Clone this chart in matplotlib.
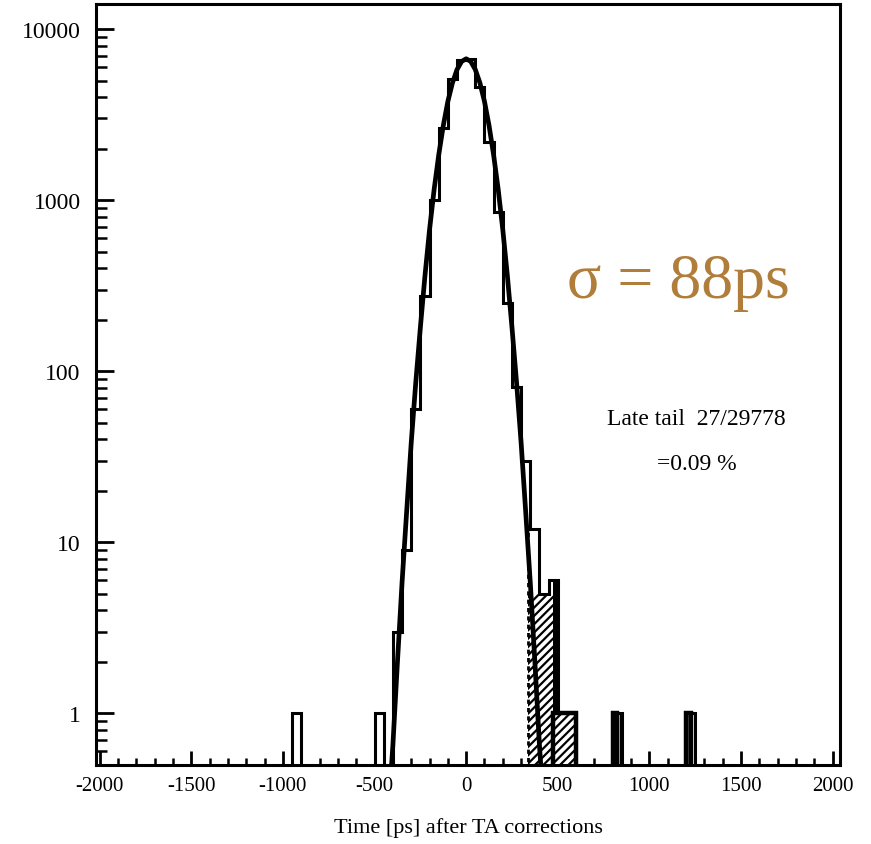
import numpy as np
import matplotlib
matplotlib.use("Agg")
import matplotlib.pyplot as plt
from matplotlib.ticker import LogLocator, MultipleLocator, NullFormatter, FuncFormatter

plt.rcParams['font.family'] = ['Liberation Serif', 'DejaVu Serif']
plt.rcParams['axes.unicode_minus'] = False
plt.rcParams['hatch.linewidth'] = 1.6

# histogram of arrival times, 50 ps bins
bin_edges = np.arange(-1000, 1301, 50)
counts = [0, 1, 0, 0, 0, 0, 0, 0, 0, 0,          # -1000 .. -550
          1, 0, 3, 9, 60, 275, 1000, 2640, 5080, 6600,   # -500 .. -50
          6700, 4600, 2200, 850, 250, 81, 30, 12, 5, 6,  # 0 .. 450
          1, 1, 0, 0, 0, 0, 1, 0, 0, 0,          # 500 .. 950
          0, 0, 0, 0, 1, 0]                      # 1000 .. 1250

# gaussian fit curve
curve_t = [-410, -400, -375, -350, -325, -300, -275, -250, -225, -200, -175,
           -150, -125, -100, -75, -50, -25, 0, 25, 50, 75, 100, 125, 150,
           175, 200, 225, 250, 275, 300, 325, 350, 375, 400, 410]
curve_n = [0.45, 0.65, 2.0, 5.8, 15, 38, 86, 180, 360, 670, 1150,
           1830, 2720, 3770, 4840, 5790, 6460, 6700, 6460, 5790, 4840, 3770, 2720, 1830,
           1150, 670, 360, 180, 86, 38, 15, 5.8, 2.0, 0.65, 0.45]

# late tail (hatched)
tail_edges = [335, 475, 600]
tail_counts = [5, 1]
tail_cut = 335
tail_cut_top = 12
late_block_edges = [475, 500]
late_block_counts = [6]
outlier_edges = [[800, 850], [1200, 1250]]
outlier_counts = [1, 1]

fig = plt.figure(figsize=(8.71, 8.45), dpi=100)
ax = fig.add_axes([96 / 871, 1 - 766 / 845, (840 - 96) / 871, (766 - 5) / 845])
ax.set_yscale('log')

# hatched late-tail region
ax.stairs(tail_counts, tail_edges, baseline=0.1, fill=True, facecolor='white',
          edgecolor='black', hatch='////', linewidth=0, zorder=2)
ax.stairs(tail_counts[1:], tail_edges[1:], baseline=0.1, color='black',
          linewidth=3.2, zorder=4)
ax.stairs(late_block_counts, late_block_edges, baseline=1, fill=True,
          color='black', linewidth=0, zorder=4)
for e, c in zip(outlier_edges, outlier_counts):
    ax.stairs([c], e, baseline=0.1, fill=True, facecolor='white',
              edgecolor='black', hatch='||', linewidth=0, zorder=2)
    ax.stairs([c], [e[0], (e[0] + e[1]) / 2], baseline=0.1, color='black',
              linewidth=3.2, zorder=4)

ax.vlines(tail_cut, 0.1, tail_cut_top, colors='black', linestyles=(0, (1.5, 1.5)),
          linewidth=2, zorder=3)

# open histogram
ax.stairs(np.maximum(counts, 0.1), bin_edges, baseline=0.1, color='black',
          linewidth=2.2, zorder=4)

# fit
ax.plot(curve_t, curve_n, color='black', linewidth=3.4, zorder=5)

ax.set_xlim(-2020, 2040)
ax.set_ylim(0.5, 14000)

ax.xaxis.set_major_locator(MultipleLocator(500))
ax.xaxis.set_minor_locator(MultipleLocator(100))
ax.yaxis.set_major_locator(LogLocator(base=10))
ax.yaxis.set_minor_locator(LogLocator(base=10, subs=np.arange(2, 10)))
ax.yaxis.set_minor_formatter(NullFormatter())
ax.yaxis.set_major_formatter(FuncFormatter(lambda v, p: f'{v:g}'))

ax.tick_params(axis='x', which='both', direction='in', top=False, labelsize=15, pad=8)
ax.tick_params(axis='x', which='major', length=10, width=2)
ax.tick_params(axis='x', which='minor', length=5, width=1.8)
ax.tick_params(axis='y', which='both', direction='in', right=False, labelsize=17, pad=11)
ax.tick_params(axis='y', which='major', length=13, width=2)
ax.tick_params(axis='y', which='minor', length=8, width=1.8)

for s in ax.spines.values():
    s.set_linewidth(2.2)

ax.set_xlabel('Time [ps] after TA corrections', fontsize=16, labelpad=16)

fig.text(696 / 871, 1 - 420 / 845, 'Late tail  27/29778', ha='center', va='center',
         fontsize=17)
fig.text(697 / 871, 1 - 465 / 845, '=0.09 %', ha='center', va='center', fontsize=17)
fig.text(678 / 871, 1 - 283 / 845, 'σ = 88ps', ha='center', va='center',
         fontsize=46, color='#b07d3a')

fig.savefig('out.png', dpi=100)
